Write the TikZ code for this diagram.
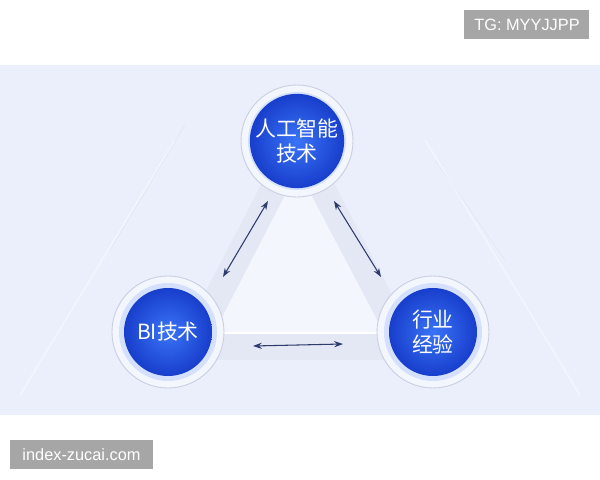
\documentclass[tikz,border=0pt]{standalone}
\usepackage{xcolor}
\usepackage{fontspec}
\setmainfont{Liberation Sans}
\newfontfamily\cjk{Noto Sans CJK SC}
\usepackage{tikz}
\usetikzlibrary{arrows.meta}

\definecolor{panel}{RGB}{235,239,252}
\definecolor{band}{RGB}{228,232,245}
\definecolor{inner}{RGB}{244,246,254}
\definecolor{ringline}{RGB}{200,206,224}
\definecolor{ballhi}{RGB}{58,116,246}
\definecolor{balllo}{RGB}{24,62,204}
\definecolor{glow}{RGB}{175,198,250}
\definecolor{navy}{RGB}{44,58,108}
\definecolor{wmgray}{RGB}{166,166,166}

\begin{document}
\begin{tikzpicture}[x=0.02cm, y=-0.02cm,
    ring/.style={circle, minimum size=112*0.02cm, inner sep=0, fill=inner, draw=ringline, line width=0.5pt},
    halo/.style={circle, minimum size=98*0.02cm, inner sep=0, fill=glow, opacity=0.45},
    ball/.style={circle, minimum size=88*0.02cm, inner sep=0, inner color=ballhi, outer color=balllo,
                 text=white, align=center, font=\cjk\fontsize{11.9}{14.2}\selectfont},
    link/.style={{Stealth[length=5pt,width=3.5pt]}-{Stealth[length=5pt,width=3.5pt]}, navy, line width=0.6pt},
    wm/.style={fill=wmgray, text=white, inner sep=0, minimum height=29*0.02cm, font=\fontsize{9.3}{11}\selectfont}]
    \useasboundingbox (0,0) rectangle (600,480);
    \fill[white] (0,0) rectangle (600,480);
    \fill[panel] (0,65) rectangle (600,415);
    % faint lines in the background
    \draw[white, line width=1pt, opacity=0.4] (20,395) -- (175,140);
    \draw[white, line width=1pt, opacity=0.4] (580,395) -- (425,140);
    \draw[ringline, line width=0.3pt, opacity=0.3] (110,250) -- (185,125);
    \draw[ringline, line width=0.3pt, opacity=0.3] (435,160) -- (505,260);

    % triangle band
    \fill[band] (298,114) -- (170,360) -- (426,360) -- cycle;
    \fill[inner] (298,170) -- (214,333) -- (384,333) -- cycle;
    \draw[white, line width=1.2pt] (214,333) -- (384,333);

    % the three circles
    \node[ring] (ai-ring) at (297,141) {};
    \node[ring] (bi-ring) at (168,332) {};
    \node[ring] (hy-ring) at (433,332) {};
    \node[halo] at (297,141) {};
    \node[halo] at (168,332) {};
    \node[halo] at (433,332) {};
    \node[ball] (ai) at (297,141) {人工智能\\技术};
    \node[ball] (bi) at (168,332) {BI技术};
    \node[ball] (hy) at (433,332) {行业\\经验};

    % arrows along the band
    \coordinate (ai-l) at (268,201);
    \coordinate (bi-t) at (223,277);
    \coordinate (ai-r) at (334,201);
    \coordinate (hy-t) at (381,277);
    \coordinate (bi-r) at (253,346);
    \coordinate (hy-l) at (343,344);
    \draw[link] (ai-l) -- (bi-t);
    \draw[link] (ai-r) -- (hy-t);
    \draw[link] (bi-r) -- (hy-l);

    % watermarks
    \node[wm, minimum width=125*0.02cm] (tg) at (527,25) {TG: MYYJJPP};
    \node[wm, minimum width=143*0.02cm] (site) at (81.5,455) {index-zucai.com};
\end{tikzpicture}
\end{document}
